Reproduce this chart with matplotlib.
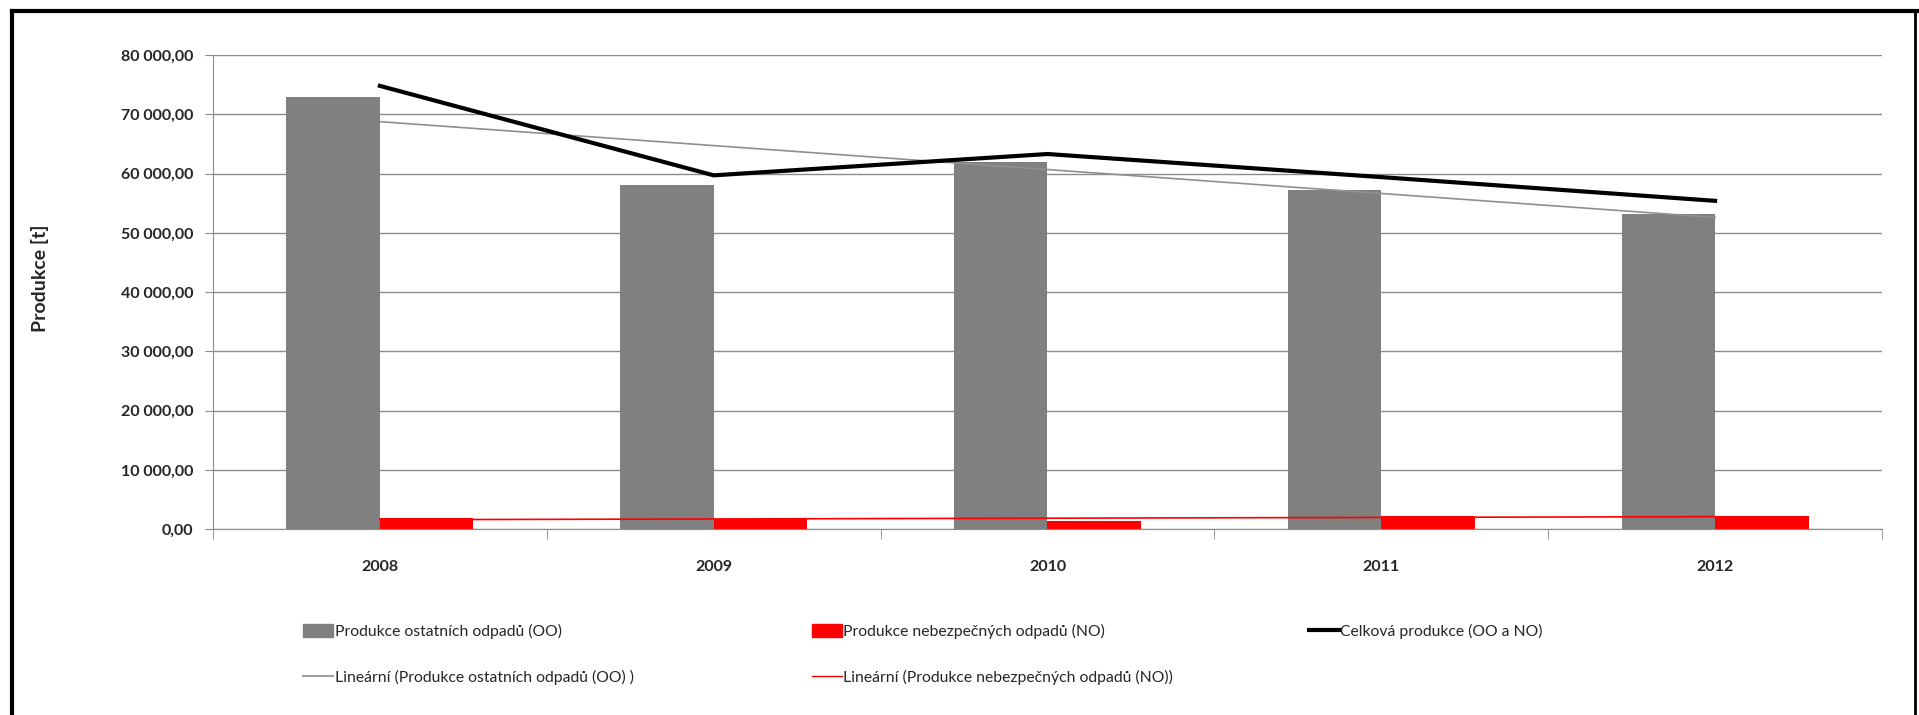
import numpy as np
import matplotlib
matplotlib.use("Agg")
import matplotlib.pyplot as plt
from matplotlib.ticker import FuncFormatter, FixedLocator
from matplotlib.patches import Patch
from matplotlib.lines import Line2D

years = ["2008", "2009", "2010", "2011", "2012"]
ostatni = [73000, 58000, 62000, 57200, 53200]
nebezpecne = [1800, 1700, 1300, 2200, 2200]
celkova = [74800, 59700, 63300, 59400, 55400]

plt.rcParams['font.family'] = ['Lato', 'DejaVu Sans']

fig = plt.figure(figsize=(19.19, 7.15), dpi=100)
ax = fig.add_axes([0.111, 0.260, 0.8697, 0.663])

x = np.arange(len(years))
w = 0.28
ax.bar(x - w / 2, ostatni, w, color='#808080', zorder=2)
ax.bar(x + w / 2, nebezpecne, w, color='#ff0000', zorder=2)
ax.plot(x, celkova, color='black', lw=3, zorder=4)

# linear trends
p1 = np.polyfit(x, ostatni, 1)
p2 = np.polyfit(x, nebezpecne, 1)
ax.plot(x, np.polyval(p1, x), color='#909090', lw=1.2, zorder=3)
ax.plot(x, np.polyval(p2, x), color='#ff0000', lw=1.2, zorder=3)

ax.set_xlim(-0.5, len(years) - 0.5)
ax.set_ylim(0, 80000)
ax.set_yticks(np.arange(0, 80001, 10000))
ax.yaxis.set_major_formatter(FuncFormatter(
    lambda v, p: f"{v:,.2f}".replace(",", " ").replace(".", ",")))
ax.grid(axis='y', color='#8c8c8c', lw=1, zorder=0)
ax.set_xticks(x)
ax.set_xticklabels(years)
ax.xaxis.set_minor_locator(FixedLocator(np.arange(-0.5, len(years), 1)))
ax.tick_params(axis='x', which='major', length=0, pad=22)
ax.tick_params(axis='x', which='minor', length=7, color='#8c8c8c')
ax.tick_params(axis='y', length=6, color='#8c8c8c', pad=8)
for lab in ax.get_xticklabels() + ax.get_yticklabels():
    lab.set_fontsize(11.5)
    lab.set_fontweight('bold')
    lab.set_color('#262626')
for s in ['top', 'right']:
    ax.spines[s].set_visible(False)
for s in ['left', 'bottom']:
    ax.spines[s].set_color('#8c8c8c')

fig.text(0.021, 0.611, "Produkce [t]", rotation=90, ha='center', va='center',
         fontsize=14, fontweight='bold', color='#262626')

# legend, three columns placed like the original
columns = [
    ([Patch(color='#808080'), Line2D([], [], color='#a0a0a0', lw=1.5)],
     ["Produkce ostatních odpadů (OO)",
      "Lineární (Produkce ostatních odpadů (OO) )"], 0.158),
    ([Patch(color='#ff0000'), Line2D([], [], color='#ff0000', lw=1)],
     ["Produkce nebezpečných odpadů (NO)",
      "Lineární (Produkce nebezpečných odpadů (NO))"], 0.423),
    ([Line2D([], [], color='black', lw=3)],
     ["Celková produkce (OO a NO)"], 0.682),
]
for hs, ls, xpos in columns:
    leg = fig.legend(hs, ls, loc='upper left', bbox_to_anchor=(xpos, 0.128),
                     frameon=False, fontsize=11.3, handlelength=1.9,
                     handleheight=0.9, handletextpad=0.1, labelspacing=2.0,
                     borderaxespad=0, borderpad=0)
    for t in leg.get_texts():
        t.set_color('#262626')

# outer frame
fig.add_artist(Line2D([0.006, 0.006], [0, 0.985], color='black', lw=3,
                      transform=fig.transFigure))
fig.add_artist(Line2D([0.006, 0.999], [0.985, 0.985], color='black', lw=3,
                      transform=fig.transFigure))
fig.add_artist(Line2D([0.998, 0.998], [0, 0.985], color='black', lw=2,
                      transform=fig.transFigure))

fig.savefig("out.png", dpi=100)
